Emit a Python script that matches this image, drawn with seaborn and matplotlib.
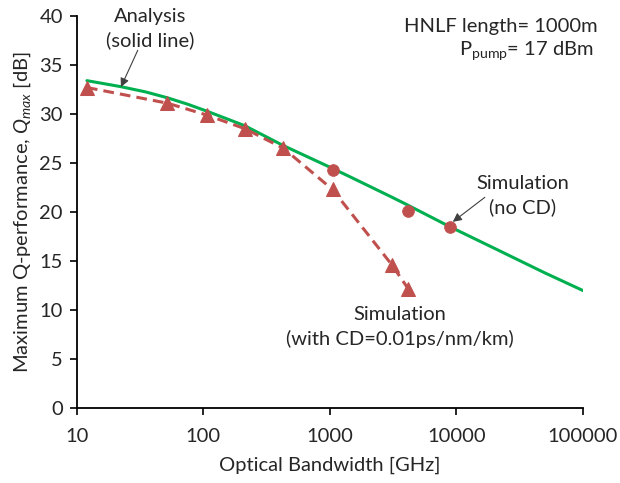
import matplotlib
matplotlib.use("Agg")
import matplotlib.pyplot as plt
import seaborn as sns

# analysis curve (solid green)
bw_analysis = [12, 22, 35, 52, 75, 106, 213, 425, 1030, 1440, 3000, 4000, 8900, 20000, 50000, 100000]
q_analysis = [33.4, 32.8, 32.25, 31.65, 31.0, 30.3, 28.8, 26.8, 24.5, 23.6, 21.6, 20.8, 18.5, 16.3, 13.8, 12.0]

# simulation with CD (dashed red, triangles)
bw_cd = [12, 52, 106, 213, 430, 1050, 3100, 4150]
q_cd = [32.7, 31.1, 29.9, 28.5, 26.5, 22.3, 14.6, 12.2]

# simulation without CD (red circles)
bw_nocd = [1050, 4150, 8900]
q_nocd = [24.3, 20.1, 18.5]

xticks = [10, 100, 1000, 10000, 100000]
yticks = list(range(0, 41, 5))

GREEN = "#00B050"
RED = "#C0504D"
FS = 14.5

sns.set_style("ticks")
plt.rcParams["font.family"] = ["Lato", "DejaVu Sans"]
plt.rcParams["mathtext.fontset"] = "custom"
plt.rcParams["mathtext.rm"] = "Lato"
plt.rcParams["mathtext.it"] = "Lato:italic"

fig = plt.figure(figsize=(6.2, 4.83), dpi=100)
ax = fig.add_axes([0.124, 0.155, 0.816, 0.812])

sns.lineplot(x=bw_analysis, y=q_analysis, ax=ax, color=GREEN, linewidth=2.2)
sns.lineplot(x=bw_cd, y=q_cd, ax=ax, color=RED, linewidth=2.2, linestyle=(0, (3.5, 2)),
             marker="^", markersize=10, markeredgecolor=RED)
sns.scatterplot(x=bw_nocd, y=q_nocd, ax=ax, color=RED, s=70, edgecolor=RED, zorder=3)

ax.set_xscale("log")
ax.set_xlim(10, 100000)
ax.set_ylim(0, 40)
ax.set_xticks(xticks)
ax.set_xticklabels([str(t) for t in xticks])
ax.xaxis.set_minor_locator(matplotlib.ticker.NullLocator())
ax.set_yticks(yticks)
ax.tick_params(axis="both", labelsize=FS, length=5, width=1.2, color="black")
ax.tick_params(axis="x", pad=9)
ax.tick_params(axis="y", pad=5)
for s in ["left", "bottom"]:
    ax.spines[s].set_color("black")
    ax.spines[s].set_linewidth(1.3)
sns.despine(ax=ax)

ax.set_xlabel("Optical Bandwidth [GHz]", fontsize=FS, labelpad=9)
ax.set_ylabel(r"Maximum Q-performance, $\mathit{Q_{max}}$ [dB]", fontsize=FS, labelpad=5)

arrow = dict(arrowstyle="-|>", color="#404040", lw=0.8, mutation_scale=13,
             shrinkA=0, shrinkB=0)
ax.annotate("", xy=(22.3, 32.75), xytext=(30.3, 36.5), arrowprops=arrow)
ax.annotate("", xy=(9380, 19.0), xytext=(16800, 21.5), arrowprops=arrow)

ax.text(37.8, 38.7, "Analysis\n(solid line)", ha="center", va="center",
        fontsize=FS, linespacing=1.4)
ax.text(33600, 21.7, "Simulation\n(no CD)", ha="center", va="center",
        fontsize=FS, linespacing=1.4)
ax.text(3570, 8.27, "Simulation\n(with CD=0.01ps/nm/km)", ha="center", va="center",
        fontsize=FS, linespacing=1.45)
ax.text(1.03, 0.972, "HNLF length= 1000m", transform=ax.transAxes, ha="right",
        va="center", fontsize=FS)
ax.text(1.022, 0.912, r"P$_{\mathrm{pump}}$= 17 dBm", transform=ax.transAxes, ha="right",
        va="center", fontsize=FS)

fig.savefig("out.png", dpi=100)
